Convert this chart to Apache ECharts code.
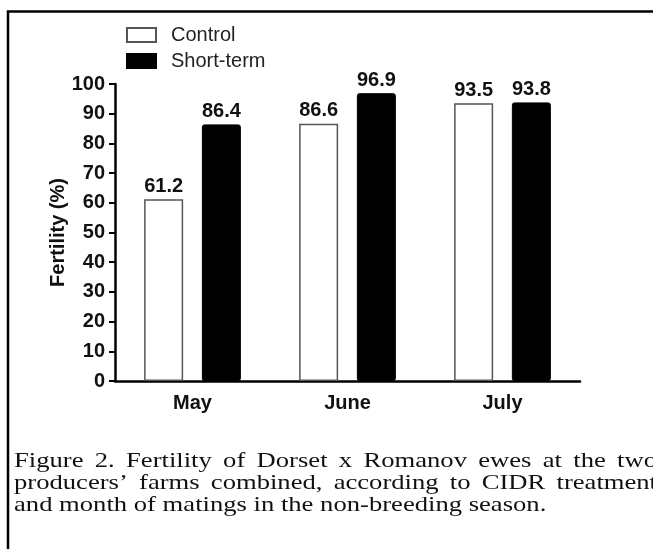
<!DOCTYPE html>
<html>
<head>
<meta charset="utf-8">
<script src="https://cdn.jsdelivr.net/npm/echarts@6/dist/echarts.min.js"></script>
<style>
  html, body { margin: 0; padding: 0; background: #fff; }
  #chart { width: 653px; height: 549px; }
</style>
</head>
<body>
<div id="chart"></div>
<script>
// data
const months = ['May', 'June', 'July'];
const controlValues = [61.2, 86.6, 93.5];
const shortTermValues = [86.4, 96.9, 93.8];
const seriesNames = ['Control', 'Short-term'];
const captionLines = [
  'Figure 2. Fertility of Dorset x Romanov ewes at the two',
  'producers\u2019 farms combined, according to CIDR treatment',
  'and month of matings in the non-breeding season.'
];

const sans = "'Liberation Sans', Arial, Helvetica, sans-serif";
const serif = "'Liberation Serif', 'Times New Roman', serif";

let myChart = echarts.init(document.getElementById('chart'), null, { renderer: 'canvas' });

// caption: scan is stretched sideways, and the first two lines are justified
// out past the right edge of the picture
const capSize = 22, capScale = 1.21, capLeft = 14, capRight = 657;
let ctx = document.createElement('canvas').getContext('2d');
ctx.font = capSize + 'px ' + serif;
let captionEls = [];
captionLines.forEach((line, i) => {
  let words = line.split(' ');
  let widths = words.map(w => ctx.measureText(w).width * capScale);
  let space = ctx.measureText(' ').width * capScale;
  if (i < captionLines.length - 1) {
    let total = widths.reduce((a, b) => a + b, 0);
    space = (capRight - capLeft - total) / (words.length - 1);
  }
  let x = capLeft;
  words.forEach((w, j) => {
    captionEls.push({
      type: 'text',
      x: x,
      y: 461 + i * 22,
      scaleX: capScale,
      style: {
        text: w,
        x: 0,
        y: 0,
        fontFamily: serif,
        fontSize: capSize,
        fill: '#111',
        verticalAlign: 'middle'
      },
      silent: true
    });
    x += widths[j] + space;
  });
});

let boldLabel = {
  fontFamily: sans,
  fontWeight: 'bold',
  fontSize: 20,
  color: '#111'
};

myChart.setOption({
  backgroundColor: '#fff',
  animation: false,
  legend: {
    orient: 'vertical',
    left: 126,
    top: 25,
    padding: 0,
    itemWidth: 29,
    itemHeight: 14,
    itemGap: 6,
    icon: 'rect',
    textStyle: {
      fontFamily: sans,
      fontSize: 20,
      color: '#222',
      padding: [0, 0, 0, 10]
    },
    data: seriesNames
  },
  grid: {
    left: 115,
    right: 73,
    top: 84,
    bottom: 168
  },
  xAxis: {
    type: 'category',
    data: months,
    axisLine: { lineStyle: { color: '#000', width: 2.5 } },
    axisTick: { show: false },
    axisLabel: Object.assign({ margin: 12 }, boldLabel)
  },
  yAxis: {
    type: 'value',
    min: 0,
    max: 100,
    interval: 10,
    name: 'Fertility (%)',
    nameLocation: 'middle',
    nameRotate: 90,
    nameGap: 47,
    nameMoveOverlap: false,
    nameTextStyle: boldLabel,
    axisLine: { show: true, lineStyle: { color: '#000', width: 2.5 } },
    axisTick: { show: true, length: 6, lineStyle: { color: '#000', width: 2 } },
    splitLine: { show: false },
    axisLabel: Object.assign({ margin: 10 }, boldLabel)
  },
  series: [
    {
      name: seriesNames[0],
      type: 'bar',
      data: controlValues,
      barWidth: 39,
      barGap: '48%',
      itemStyle: { color: '#fff', borderColor: '#555', borderWidth: 1.5 },
      label: Object.assign({ show: true, position: 'top', distance: 3 }, boldLabel)
    },
    {
      name: seriesNames[1],
      type: 'bar',
      data: shortTermValues,
      barWidth: 39,
      barGap: '48%',
      itemStyle: { color: '#000', borderColor: '#000', borderWidth: 1, borderRadius: 2 },
      label: Object.assign({ show: true, position: 'top', distance: 3 }, boldLabel)
    }
  ],
  graphic: [
    {
      type: 'rect',
      shape: { x: 8, y: 11.5, width: 700, height: 600 },
      style: { fill: 'none', stroke: '#000', lineWidth: 2.5 },
      silent: true
    }
  ].concat(captionEls)
});
</script>
</body>
</html>
